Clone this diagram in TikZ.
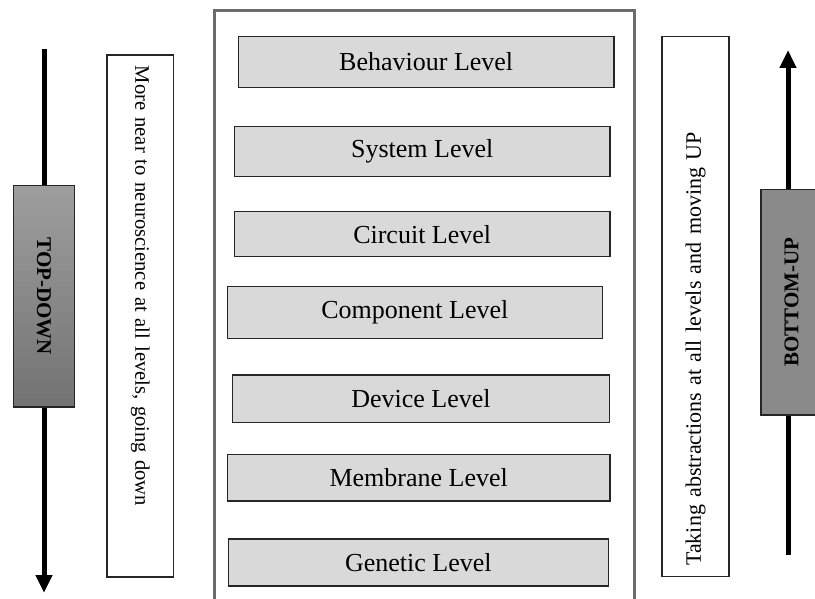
\documentclass[tikz,border=0pt]{standalone}
\usepackage{fontspec}
\setmainfont{Liberation Serif}
\usetikzlibrary{arrows.meta}

\begin{document}
\begin{tikzpicture}[x=1pt, y=-1pt,
		level/.style={draw=black!85, line width=1.2pt, fill=black!15, inner sep=0pt, font=\fontsize{26}{30}\selectfont},
		sidebox/.style={draw=black!85, line width=1.2pt, fill=white, inner xsep=11pt, inner ysep=0pt, align=left},
		tagbox/.style={draw=black!85, line width=1.2pt, inner sep=0pt, font=\fontsize{21}{25}\selectfont\bfseries},
		shaft/.style={line width=5pt},
		headshaft/.style={line width=5pt, -{Triangle[width=16pt, length=18pt]}}]
			%%%%% START %%%%%
			
			\useasboundingbox (0, 0) rectangle (815, 599);
			
			% outer frame
			\draw[draw=black!58, line width=3pt] (214, 10.5) rectangle (634.5, 615);
			
			% levels
			\node[level, minimum width=375.7pt, minimum height=50.7pt] (behaviour) at (426.2, 62) {Behaviour Level};
			\node[level, minimum width=375.7pt, minimum height=50pt] (system) at (422.2, 151.7) {System Level};
			\node[level, minimum width=375.7pt, minimum height=45pt] (circuit) at (422.2, 234.2) {Circuit Level};
			\node[level, minimum width=375pt, minimum height=51.6pt] (component) at (414.8, 312.5) {Component Level};
			\node[level, minimum width=376.6pt, minimum height=47.7pt] (device) at (421, 398.8) {Device Level};
			\node[level, minimum width=382.7pt, minimum height=46.7pt] (membrane) at (418.7, 477.7) {Membrane Level};
			\node[level, minimum width=380pt, minimum height=47pt] (genetic) at (418.3, 562.5) {Genetic Level};
			
			% left side
			\node[sidebox, rotate=-90, minimum height=66.5pt, text width=500pt, font=\fontsize{20.6}{24}\selectfont] (neartext) at (140.3, 316) {More near to neuroscience at all levels, going down};
			\node[tagbox, rotate=-90, minimum width=221.3pt, minimum height=60.7pt, top color=black!38, bottom color=black!55] (topdown) at (44, 296.3) {TOP-DOWN};
			\coordinate (tdstart) at (44, 49);
			\coordinate (tdend) at (44, 593);
			\draw[shaft] (tdstart) -- (topdown);
			\draw[headshaft] (topdown) -- (tdend);
			
			% right side
			\node[sidebox, rotate=90, minimum height=67pt, text width=518pt, font=\fontsize{22}{26}\selectfont] (abstext) at (695.5, 306.8) {Taking abstractions at all levels and moving UP};
			\node[tagbox, rotate=90, minimum width=225.7pt, minimum height=61pt, fill=black!46] (bottomup) at (791.5, 302.2) {BOTTOM-UP};
			\coordinate (bustart) at (788, 555);
			\coordinate (buend) at (788, 50);
			\draw[shaft] (bustart) -- (bustart |- bottomup.west);
			\draw[headshaft] (bustart |- bottomup.east) -- (buend);
			
			%%%%% END %%%%%
		\end{tikzpicture}
\end{document}
